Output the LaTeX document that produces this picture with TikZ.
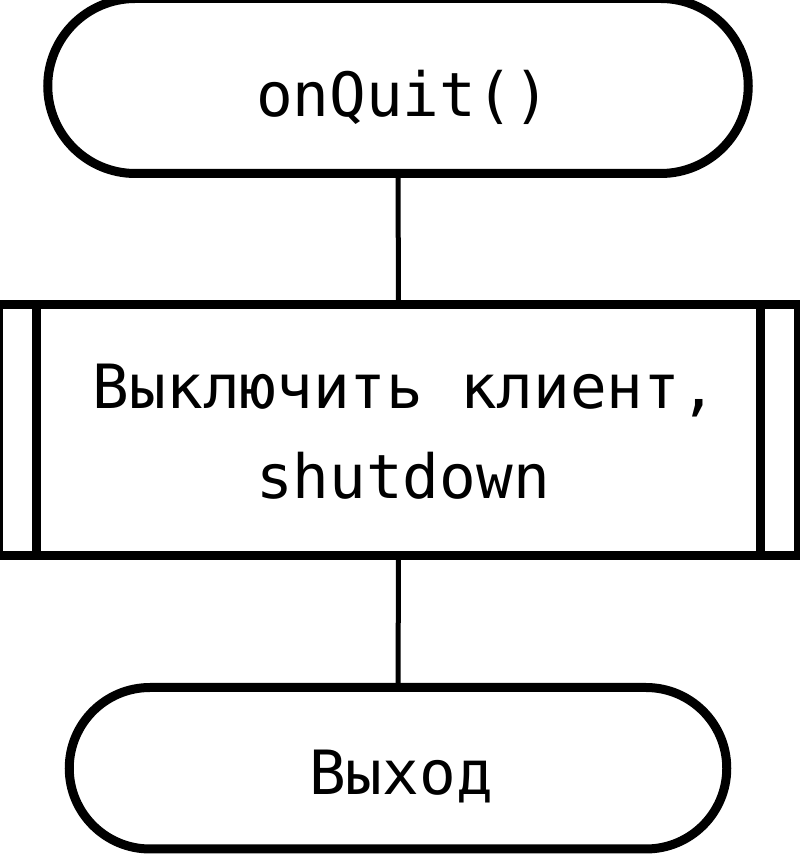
\documentclass[tikz,border=0pt]{standalone}
\usepackage{fontspec}
\newfontfamily\monofnt{DejaVu Sans Mono}
\usetikzlibrary{shapes.misc}
\begin{document}
\begin{tikzpicture}[x=1pt,y=1pt,
  term/.style={rounded rectangle, draw=black, line width=9pt, outer sep=0pt, inner sep=0pt},
  procbox/.style={rectangle, draw=black, line width=9pt, outer sep=0pt, inner sep=0pt},
  conn/.style={draw=black, line width=5pt},
  lbl/.style={font=\monofnt\fontsize{61}{90}\selectfont, anchor=base, inner sep=0pt, align=center}]
\useasboundingbox (0,0) rectangle (800,854);
\node[term, minimum width=700.5pt, minimum height=175pt] (start) at (398,768) {};
\node[procbox, minimum width=800pt, minimum height=251pt] (proc) at (398.5,424) {};
\node[term, minimum width=657.5pt, minimum height=161.5pt] (stop) at (398,85.75) {};
\draw[line width=9pt] ([xshift=37.5pt]proc.north west) -- ([xshift=37.5pt]proc.south west);
\draw[line width=9pt] ([xshift=-38pt]proc.north east) -- ([xshift=-38pt]proc.south east);
\draw[conn] (start.south) -- (proc.north);
\draw[conn] (proc.south) -- (stop.north);
\node[lbl] (t1) at (403,737) {onQuit()};
\node[lbl] (t2a) at (405,445) {Выключить клиент,};
\node[lbl] (t2b) at (403,355) {shutdown};
\node[lbl] (t3) at (401,59) {Выход};
\end{tikzpicture}
\end{document}
